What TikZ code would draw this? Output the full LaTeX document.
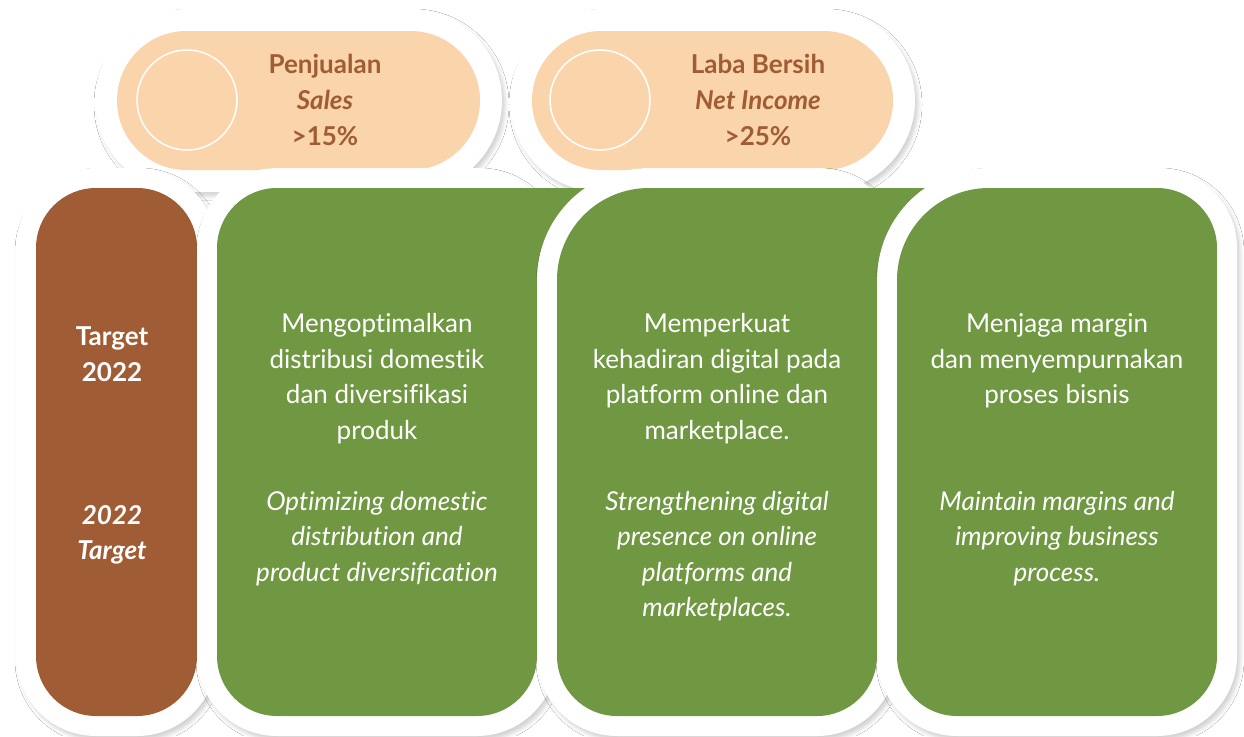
\documentclass[tikz,border=0pt]{standalone}
\usepackage{fontspec}
\setmainfont{Lato}[Ligatures=NoCommon]
\usetikzlibrary{shadows.blur}
\definecolor{peach}{HTML}{FAD4AA}
\definecolor{brownc}{HTML}{A05C35}
\definecolor{greenc}{HTML}{709842}
\newcommand\rrpath[8]{(#1,#2+#5) arc[start angle=180,end angle=270,radius=#5] -- (#3-#6,#2) arc[start angle=270,end angle=360,radius=#6] -- (#3,#4-#7) arc[start angle=0,end angle=90,radius=#7] -- (#1+#8,#4) arc[start angle=90,end angle=180,radius=#8] -- cycle}
\begin{document}
\begin{tikzpicture}[x=1pt,y=-1pt,
  halo/.style={fill=white, blur shadow={shadow xshift=3pt, shadow yshift=-4pt, shadow blur radius=4pt, shadow opacity=18}},
  pilltext/.style={anchor=north, align=center, inner sep=0pt, text=brownc, font=\fontsize{26}{36}\selectfont\bfseries},
  tgttext/.style={anchor=north, align=center, inner sep=0pt, text=white, font=\fontsize{26}{35.3}\selectfont\bfseries},
  bodytext/.style={anchor=north, align=center, inner sep=0pt, text=white, font=\fontsize{26}{35.6}\selectfont},
  bodyital/.style={bodytext, font=\fontsize{26}{35.6}\selectfont\itshape},
  ringline/.style={draw=white, line width=1.5pt}]
\fill[white] (0,0) rectangle (1244,736);
\useasboundingbox (0,0) rectangle (1244,736);
% pills
\path[halo] \rrpath{95}{9}{502}{192}{91.5}{91.5}{91.5}{91.5};
\fill[peach] \rrpath{117}{31}{480}{170}{69.5}{69.5}{69.5}{69.5};
\draw[ringline] (187,100) circle[radius=50];
\node[pilltext] (p1) at (325,48.1) {\strut Penjualan\\\textit{Sales}\\>15\%};
\path[halo] \rrpath{510}{9}{915}{192}{91.5}{91.5}{91.5}{91.5};
\fill[peach] \rrpath{532}{31}{893}{170}{69.5}{69.5}{69.5}{69.5};
\draw[ringline] (600,100) circle[radius=50];
\node[pilltext] (p2) at (758,48.1) {\strut Laba Bersih\\\textit{Net Income}\\>25\%};
% brown box
\path[halo] \rrpath{16}{168}{217}{736}{80}{80}{80}{80};
\fill[brownc] \rrpath{36}{188}{197}{716}{60}{60}{60}{60};
\node[tgttext] (t1) at (112,321) {\strut Target\\2022};
\node[tgttext, font=\fontsize{26}{35.3}\selectfont\bfseries\itshape] (t2) at (112,499.3) {\strut 2022\\Target};
% green 1
\path[halo] \rrpath{197}{168}{557}{736}{80}{80}{80}{80};
\fill[greenc] \rrpath{217}{188}{537}{716}{60}{60}{60}{60};
\fill[greenc] (470,188) rectangle (660,300);
% green 2
\path[halo] \rrpath{537}{168}{897}{736}{112}{80}{80}{80};
\fill[greenc] \rrpath{557}{188}{877}{716}{92}{60}{60}{60};
\fill[greenc] (800,188) rectangle (1000,300);
% green 3
\path[halo] \rrpath{877}{168}{1237}{736}{112}{80}{80}{80};
\fill[greenc] \rrpath{897}{188}{1217}{716}{92}{60}{60}{60};
% texts
\node[bodytext] (b1a) at (377,307.5) {\strut Mengoptimalkan\\distribusi domestik\\dan diversifikasi\\produk};
\node[bodyital] (b1b) at (377,485) {\strut Optimizing domestic\\distribution and\\product diversification};
\node[bodytext] (b2a) at (717,307.5) {\strut Memperkuat\\kehadiran digital pada\\platform online dan\\marketplace.};
\node[bodyital] (b2b) at (717,485) {\strut Strengthening digital\\presence on online\\platforms and\\marketplaces.};
\node[bodytext] (b3a) at (1057,307.5) {\strut Menjaga margin\\dan menyempurnakan\\proses bisnis};
\node[bodyital] (b3b) at (1057,485) {\strut Maintain margins and\\improving business\\process.};
\end{tikzpicture}
\end{document}
